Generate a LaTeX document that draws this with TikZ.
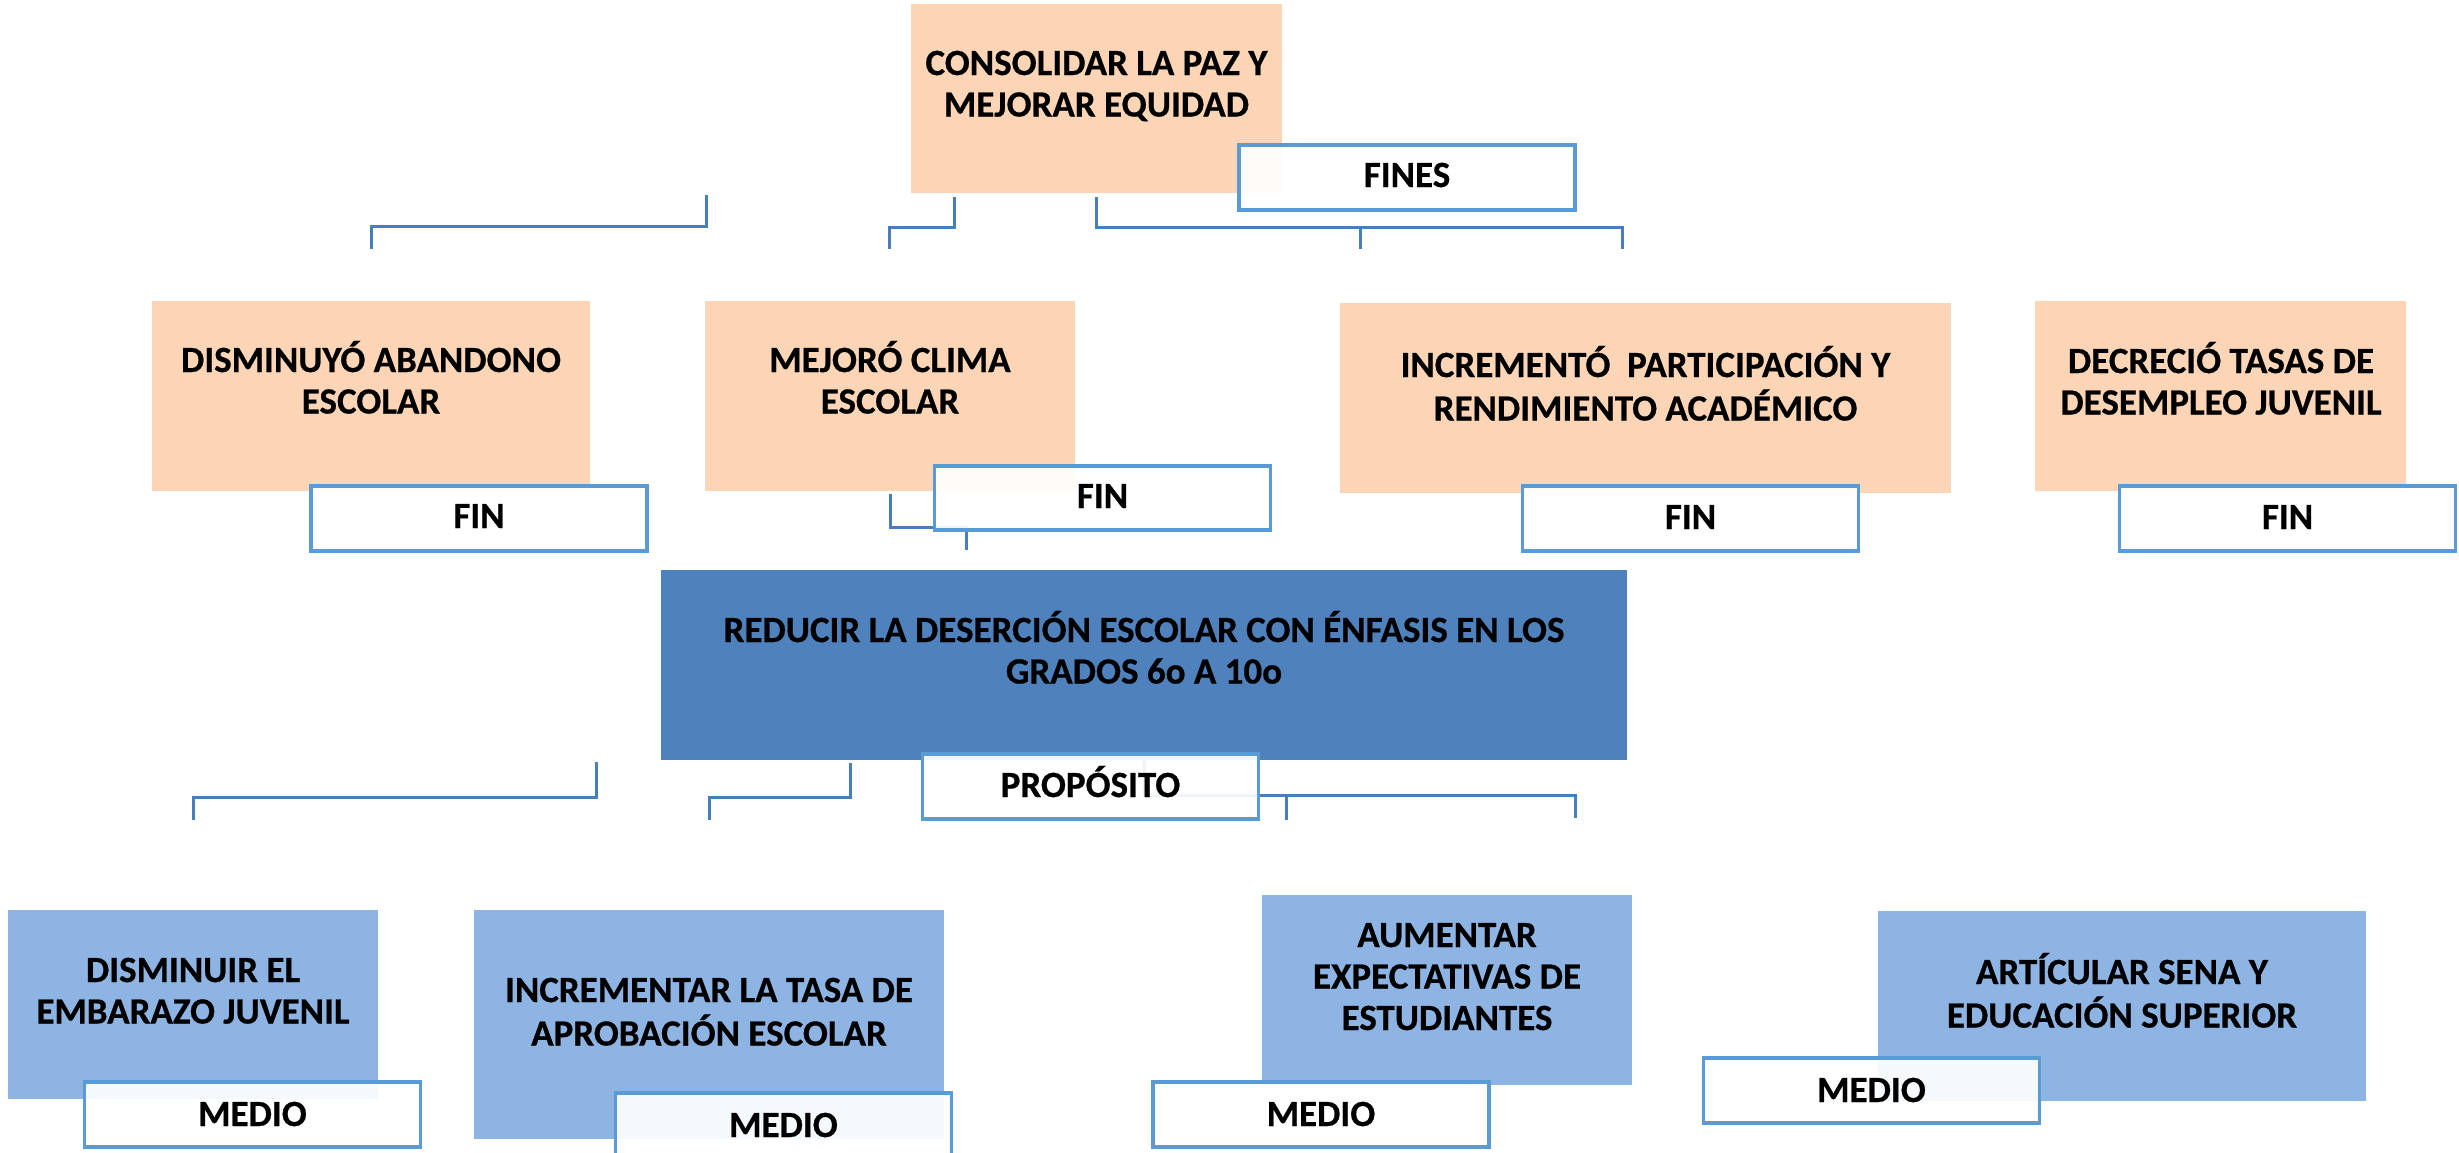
\documentclass[tikz,border=0pt]{standalone}
\usepackage{fontspec}
\setmainfont{Carlito}[BoldFeatures={FakeBold=0.6}]
\definecolor{peach}{HTML}{FBD5B5}
\definecolor{darkblue}{HTML}{4F81BD}
\definecolor{lightblue}{HTML}{8EB4E3}
\definecolor{tagborder}{HTML}{5B9BD5}
\definecolor{conn}{HTML}{4A7EBB}
\tikzset{
  boxbase/.style={rectangle, inner sep=0pt, outer sep=0pt},
  peachbox/.style={boxbase, fill=peach},
  purposebox/.style={boxbase, fill=darkblue},
  meanbox/.style={boxbase, fill=lightblue},
  tagbox/.style={boxbase, fill=white, fill opacity=0.92, draw=tagborder, draw opacity=1, line width=3.3pt, minimum width=336pt, minimum height=65pt},
  lbl/.style={inner sep=0pt, anchor=base, font=\fontsize{37}{41.5}\selectfont\bfseries},
  connector/.style={draw=conn, line width=3pt}
}
\newcommand{\lines}[1]{\begin{tabular}[t]{@{}c@{}}#1\end{tabular}}
\begin{document}
\begin{tikzpicture}[x=1pt,y=-1pt]
\useasboundingbox (0,0) rectangle (2459,1152);
% main boxes
\node[peachbox, minimum width=371pt, minimum height=189pt] (c0) at (1096.5,98.5) {};
\node[peachbox, minimum width=438pt, minimum height=190pt] (f1) at (371,396) {};
\node[peachbox, minimum width=370pt, minimum height=190pt] (f2) at (890,396) {};
\node[peachbox, minimum width=611pt, minimum height=190pt] (f3) at (1645.5,398) {};
\node[peachbox, minimum width=371pt, minimum height=190pt] (f4) at (2220.5,396) {};
\node[purposebox, minimum width=966pt, minimum height=190pt] (p) at (1144,665) {};
\node[meanbox, minimum width=370pt, minimum height=189pt] (m1) at (193,1004.5) {};
\node[meanbox, minimum width=470pt, minimum height=229pt] (m2) at (709,1024.5) {};
\node[meanbox, minimum width=370pt, minimum height=190pt] (m3) at (1447,990) {};
\node[meanbox, minimum width=488pt, minimum height=190pt] (m4) at (2122,1006) {};
% connector coordinates
\coordinate (d1) at (706,195); \coordinate (d2) at (706,226); \coordinate (d3) at (371,226); \coordinate (d4) at (371,249);
\coordinate (e1) at (954,197); \coordinate (e2) at (954,227); \coordinate (e3) at (889,227); \coordinate (e4) at (889,249);
\coordinate (g1) at (1096,197); \coordinate (g2) at (1096,227); \coordinate (g3) at (1622,227); \coordinate (g4) at (1622,249);
\coordinate (g5) at (1360,227); \coordinate (g6) at (1360,249);
\coordinate (h1) at (890,494); \coordinate (h2) at (890,527); \coordinate (h3) at (966,527); \coordinate (h4) at (966,550);
\coordinate (a1) at (596,762); \coordinate (a2) at (596,797); \coordinate (a3) at (193,797); \coordinate (a4) at (193,820);
\coordinate (b1) at (850,763); \coordinate (b2) at (850,797); \coordinate (b3) at (709,797); \coordinate (b4) at (709,820);
\coordinate (k1) at (1144,757); \coordinate (k2) at (1144,795); \coordinate (k3) at (1575,795); \coordinate (k4) at (1575,818);
\coordinate (k5) at (1286,795); \coordinate (k6) at (1286,820);
% connectors
\draw[connector] (d1) -- (d2) -- (d3) -- (d4);
\draw[connector] (e1) -- (e2) -- (e3) -- (e4);
\draw[connector] (g1) -- (g2) -- (g3) -- (g4);
\draw[connector] (g5) -- (g6);
\draw[connector] (h1) -- (h2) -- (h3) -- (h4);
\draw[connector] (a1) -- (a2) -- (a3) -- (a4);
\draw[connector] (b1) -- (b2) -- (b3) -- (b4);
\draw[connector] (k1) -- (k2) -- (k3) -- (k4);
\draw[connector] (k5) -- (k6);
% tag boxes
\node[tagbox] (tfines) at (1407,177.5) {};
\node[tagbox] (tfin1) at (479,518.5) {};
\node[tagbox, minimum height=64pt] (tfin2) at (1102.5,498) {};
\node[tagbox] (tfin3) at (1690.5,518.5) {};
\node[tagbox] (tfin4) at (2287.5,518.5) {};
\node[tagbox] (tprop) at (1090.5,786.5) {};
\node[tagbox] (tmed1) at (252.5,1114.5) {};
\node[tagbox] (tmed2) at (783.5,1125.5) {};
\node[tagbox] (tmed3) at (1321,1114.5) {};
\node[tagbox] (tmed4) at (1871.5,1090.5) {};
% texts
\node[lbl] (c0t) at (1096.5,75) {\lines{CONSOLIDAR LA PAZ Y\\MEJORAR EQUIDAD}};
\node[lbl] (f1t) at (371,372) {\lines{DISMINUYÓ ABANDONO\\ESCOLAR}};
\node[lbl] (f2t) at (890,372) {\lines{MEJORÓ CLIMA\\ESCOLAR}};
\node[lbl] (f3t) at (1645.5,377) {\lines{INCREMENTÓ\ \ PARTICIPACIÓN Y\\RENDIMIENTO ACADÉMICO}};
\node[lbl] (f4t) at (2221,373) {\lines{DECRECIÓ TASAS DE\\DESEMPLEO JUVENIL}};
\node[lbl] (pt) at (1144,642) {\lines{REDUCIR LA DESERCIÓN ESCOLAR CON ÉNFASIS EN LOS\\GRADOS 6o A 10o}};
\node[lbl] (m1t) at (193,982) {\lines{DISMINUIR EL\\EMBARAZO JUVENIL}};
\node[lbl] (m2t) at (709,1002) {\lines{INCREMENTAR LA TASA DE\\APROBACIÓN ESCOLAR}};
\node[lbl] (m3t) at (1447,947) {\lines{AUMENTAR\\EXPECTATIVAS DE\\ESTUDIANTES}};
\node[lbl] (m4t) at (2122,984) {\lines{ARTÍCULAR SENA Y\\EDUCACIÓN SUPERIOR}};
\node[lbl] (tfinest) at (1407,187) {FINES};
\node[lbl] (tfin1t) at (479,528) {FIN};
\node[lbl] (tfin2t) at (1102.5,508) {FIN};
\node[lbl] (tfin3t) at (1690.5,529) {FIN};
\node[lbl] (tfin4t) at (2287.5,529) {FIN};
\node[lbl] (tpropt) at (1090.5,797) {PROPÓSITO};
\node[lbl] (tmed1t) at (252.5,1126) {MEDIO};
\node[lbl] (tmed2t) at (783.5,1137) {MEDIO};
\node[lbl] (tmed3t) at (1321,1126) {MEDIO};
\node[lbl] (tmed4t) at (1871.5,1102) {MEDIO};
\end{tikzpicture}
\end{document}
